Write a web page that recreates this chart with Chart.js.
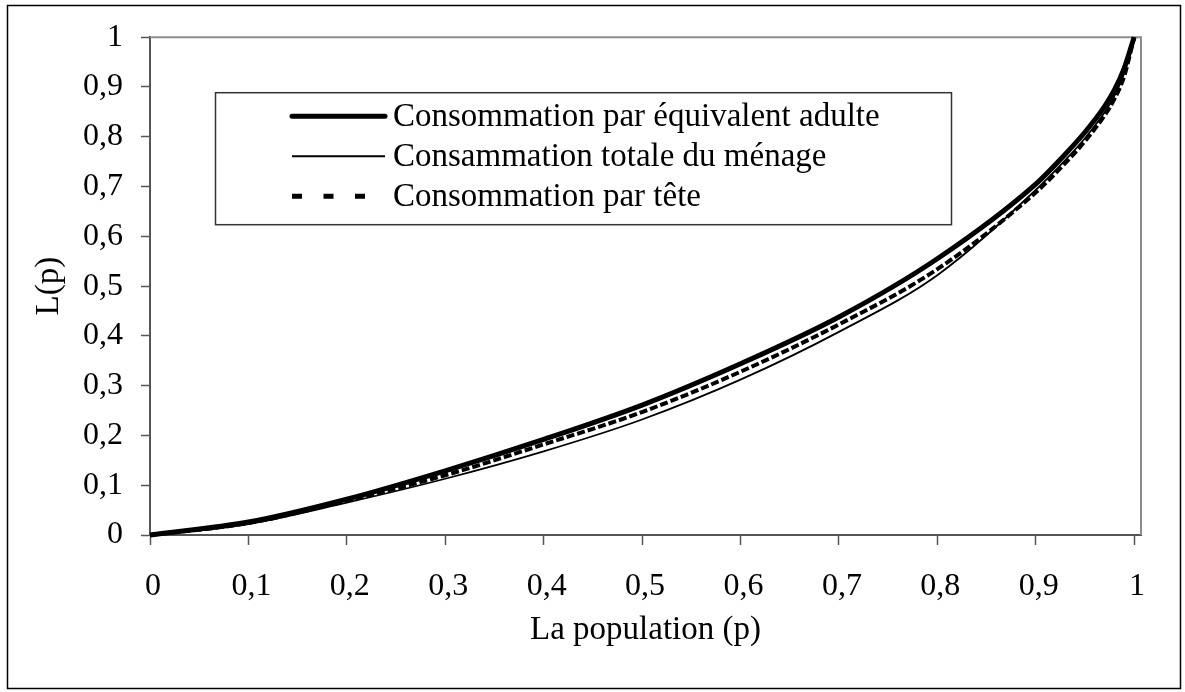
<!DOCTYPE html>
<html><head><meta charset="utf-8">
<script src="https://cdn.jsdelivr.net/npm/chart.js@4/dist/chart.umd.min.js"></script>
<style>html,body{margin:0;padding:0;background:#fff;}#wrap{width:1185px;height:692px;}</style>
</head><body><div id="wrap"><canvas id="c" width="1185" height="692"></canvas></div>
<script>
const populationShare = [0, 0.1, 0.2, 0.3, 0.4, 0.5, 0.6, 0.7, 0.8, 0.9, 0.93, 0.95, 0.97, 0.98, 0.99, 1];
const adultEquivalent = [0, 0.026, 0.072, 0.129, 0.192, 0.261, 0.344, 0.438, 0.555, 0.705, 0.765, 0.809, 0.861, 0.894, 0.938, 1];
const householdTotal  = [0, 0.022, 0.065, 0.113, 0.168, 0.232, 0.312, 0.408, 0.522, 0.693, 0.753, 0.797, 0.849, 0.882, 0.928, 1];
const perCapita       = [0, 0.024, 0.069, 0.120, 0.182, 0.247, 0.328, 0.423, 0.534, 0.688, 0.747, 0.791, 0.843, 0.876, 0.922, 1];
const seriesLabels = ['Consommation par équivalent adulte', 'Consammation totale du ménage', 'Consommation par tête'];
const tickValues = [0, 0.1, 0.2, 0.3, 0.4, 0.5, 0.6, 0.7, 0.8, 0.9, 1];
const xTitle = 'La population (p)';
const yTitle = 'L(p)';

const FONT = '"Liberation Serif","Times New Roman",serif';
Chart.defaults.font.family = FONT;
Chart.defaults.color = '#000';

const toPoints = ys => populationShare.map((p, i) => ({x: p, y: ys[i]}));
const fmt = v => String(Math.round(v * 10) / 10).replace('.', ',');

const decor = {
  id: 'decor',
  beforeDraw(chart) {
    const ctx = chart.ctx;
    ctx.save();
    ctx.fillStyle = '#fff';
    ctx.fillRect(0, 0, chart.width, chart.height);
    ctx.restore();
  },
  beforeDatasetsDraw(chart) {
    const {ctx, chartArea: a} = chart;
    ctx.save();
    ctx.strokeStyle = '#8c8c8c';
    ctx.lineWidth = 2;
    ctx.beginPath();
    ctx.moveTo(a.left, a.top);
    ctx.lineTo(a.right, a.top);
    ctx.lineTo(a.right, a.bottom);
    ctx.stroke();
    ctx.restore();
  },
  afterDraw(chart) {
    const {ctx, chartArea: a} = chart;
    ctx.save();
    ctx.strokeStyle = '#000';
    ctx.lineWidth = 1.5;
    ctx.strokeRect(7.5, 5.5, 1173, 683);
    const bx = a.left + 65, by = a.top + 55, bw = 736, bh = 132;
    ctx.fillStyle = '#fff';
    ctx.fillRect(bx, by, bw, bh);
    ctx.strokeStyle = '#333';
    ctx.lineWidth = 1.5;
    ctx.strokeRect(bx + 0.5, by + 0.5, bw, bh);
    chart.data.datasets.forEach((ds, i) => {
      const y = by + 24 + i * 40;
      ctx.save();
      ctx.strokeStyle = ds.borderColor;
      ctx.lineWidth = ds.legendLineWidth;
      ctx.lineCap = ds.legendCap;
      ctx.setLineDash(ds.legendDash);
      ctx.beginPath();
      ctx.moveTo(bx + 77, y);
      ctx.lineTo(bx + ds.legendEnd, y);
      ctx.stroke();
      ctx.restore();
      ctx.fillStyle = '#000';
      ctx.font = '33px ' + FONT;
      ctx.textBaseline = 'middle';
      ctx.textAlign = 'left';
      ctx.fillText(ds.label, bx + 178, y + 1);
    });
    ctx.restore();
  }
};

new Chart(document.getElementById('c'), {
  type: 'line',
  data: {
    datasets: [
      {label: seriesLabels[0], data: toPoints(adultEquivalent), borderColor: '#000', borderWidth: 5,
       legendLineWidth: 5, legendCap: 'round', legendDash: [], legendEnd: 170},
      {label: seriesLabels[1], data: toPoints(householdTotal), borderColor: '#000', borderWidth: 1.8,
       legendLineWidth: 2, legendCap: 'butt', legendDash: [], legendEnd: 170},
      {label: seriesLabels[2], data: toPoints(perCapita), borderColor: '#000', borderWidth: 4, borderDash: [8, 3],
       legendLineWidth: 5, legendCap: 'butt', legendDash: [10, 21.5], legendEnd: 150}
    ]
  },
  options: {
    responsive: false,
    animation: false,
    devicePixelRatio: 1,
    layout: {padding: {left: 0, right: 44, top: 35, bottom: 0}},
    elements: {point: {radius: 0}, line: {cubicInterpolationMode: 'monotone', fill: false, borderJoinStyle: 'round'}},
    datasets: {line: {clip: 6}},
    plugins: {legend: {display: false}, tooltip: {enabled: false}},
    scales: {
      x: {
        type: 'linear', min: 0, max: 1.007,
        afterBuildTicks: s => { s.ticks = tickValues.map(v => ({value: v})); },
        afterFit: s => { s.height = 157; },
        ticks: {font: {size: 32}, color: '#000', padding: 22, labelOffset: 3, maxRotation: 0, autoSkip: false, callback: fmt},
        grid: {drawOnChartArea: false, drawTicks: true, tickLength: 10, tickColor: '#555', tickWidth: 1.5},
        border: {color: '#555', width: 2},
        title: {display: true, text: xTitle, font: {size: 33}, color: '#000', padding: {top: 0, bottom: 42}}
      },
      y: {
        type: 'linear', min: 0, max: 1,
        afterBuildTicks: s => { s.ticks = tickValues.map(v => ({value: v})); },
        afterFit: s => { s.width = 150; },
        ticks: {font: {size: 32}, color: '#000', padding: 18, callback: fmt},
        grid: {drawOnChartArea: false, drawTicks: true, tickLength: 9, tickColor: '#555', tickWidth: 1.5},
        border: {color: '#555', width: 2},
        title: {display: true, text: yTitle, font: {size: 33}, color: '#000', padding: {top: 30, bottom: 0}}
      }
    }
  },
  plugins: [decor]
});
</script>
</body></html>
